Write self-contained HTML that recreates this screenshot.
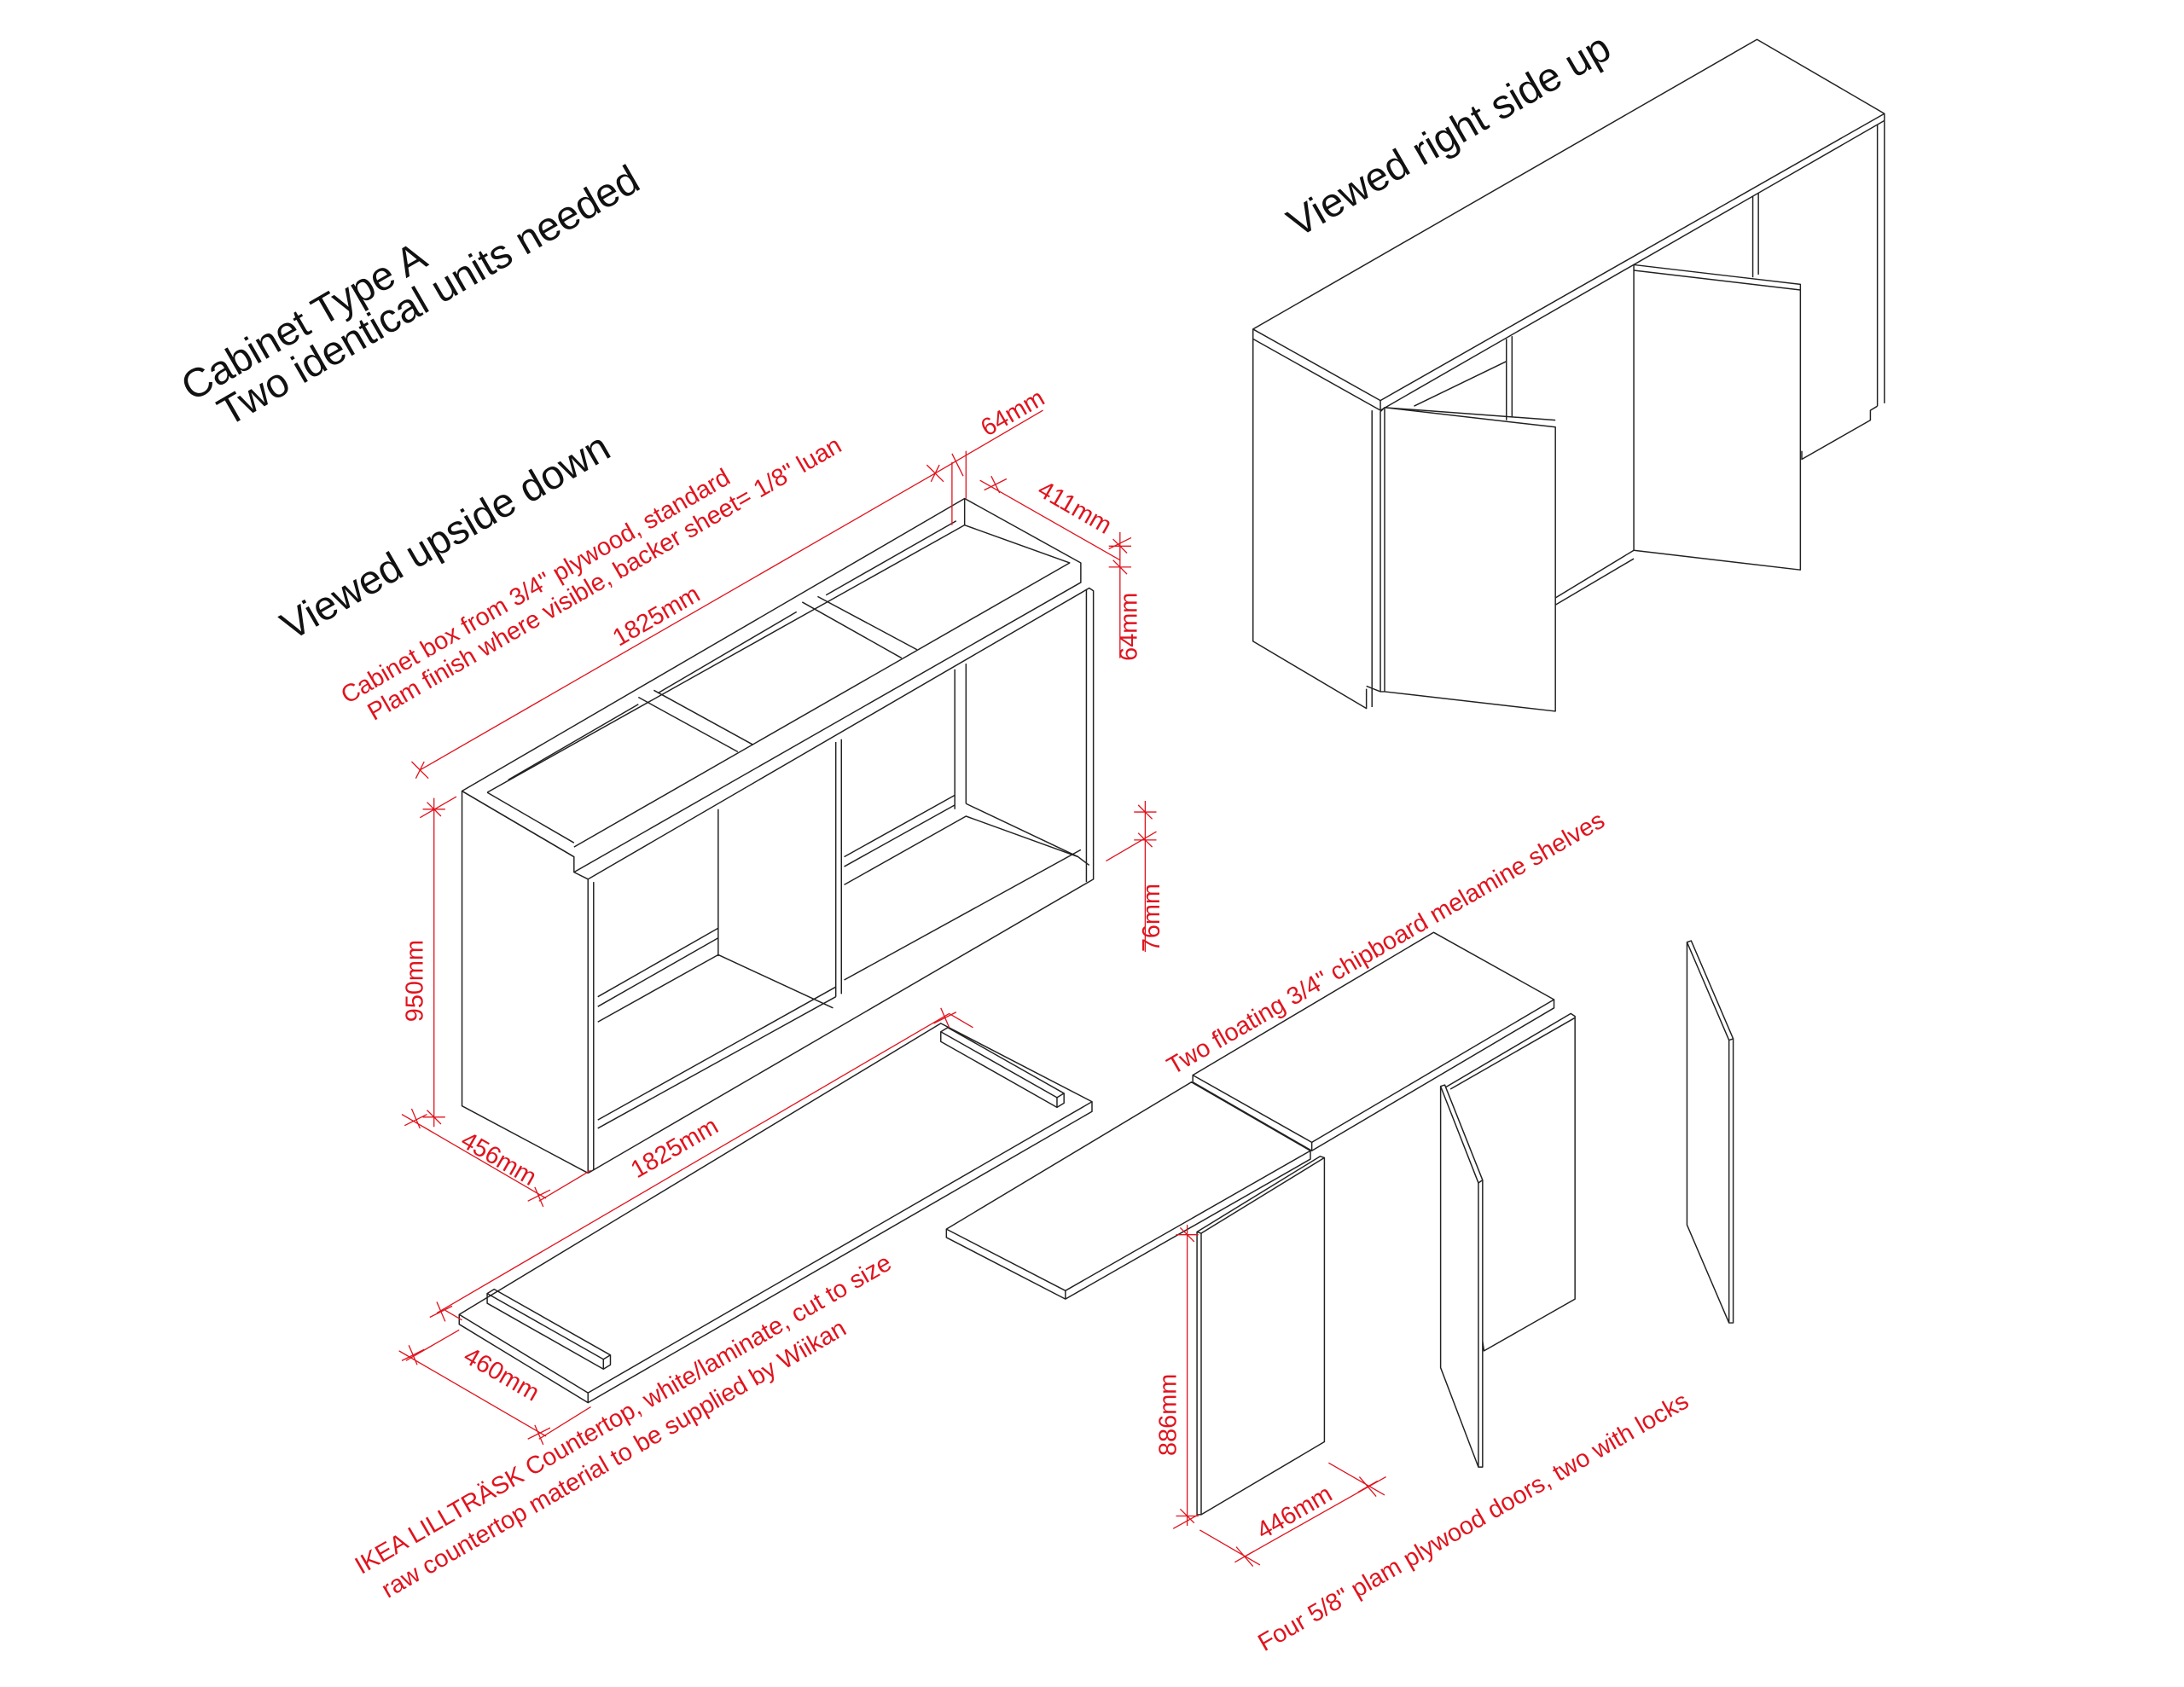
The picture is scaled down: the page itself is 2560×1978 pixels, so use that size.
<!DOCTYPE html>
<html><head><meta charset="utf-8"><style>
html,body{margin:0;padding:0;background:#fff}
svg{display:block}
text{font-family:"Liberation Sans",Arial,sans-serif}
.k{fill:none;stroke:#222;stroke-width:0.9;stroke-linejoin:round}
.r{fill:none;stroke:#e0141e;stroke-width:0.8}
.rt{fill:#e0141e;font-size:17.6px}
.bt{fill:#111;font-size:29px}
</style></head><body>
<svg width="2560" height="1978" viewBox="0 0 1560 1205" xmlns="http://www.w3.org/2000/svg">
<rect width="1560" height="1205" fill="#fff"/>

<text class="bt" transform="rotate(-30 137 287)" x="137" y="287">Cabinet Type A</text>
<text class="bt" transform="rotate(-30 163 305)" x="163" y="305">Two identical units needed</text>
<text class="bt" transform="rotate(-30 208 458)" x="208" y="458">Viewed upside down</text>
<text class="bt" transform="rotate(-30 927 170)" x="927" y="170">Viewed right side up</text>

<g class="k">
  <polygon points="330,565 689,356 772,402 772,416 410,623 410,612" fill="#fff"/>
  <polyline points="330,565 330,790 420,838"/>
  <polyline points="348,566 689,375 764,402 410,605"/>
  <line x1="330" y1="565" x2="410" y2="612"/>
  <line x1="348" y1="566" x2="410" y2="602"/>
  <line x1="689" y1="356" x2="689" y2="375"/>
  <polyline points="456,498 527,537"/><polyline points="467,493 538,532"/>
  <polyline points="573,430 644,470"/><polyline points="584,426 655,464"/>
  <polyline points="363,557 456,503"/><polyline points="470,495 569,437"/><polyline points="590,425 683,372"/>
  <polyline points="410,623 420,628 420,838"/>
  <polyline points="424,630 424,836"/>
  <polyline points="420,628 778,420 781,422 781,628 420,838"/>
  <line x1="776" y1="421" x2="776" y2="630"/>
  <line x1="513" y1="578" x2="513" y2="683"/>
  <polyline points="427,712 513,663"/><polyline points="427,719 513,670"/>
  <polyline points="427,730 513,682 595,720"/>
  <polyline points="427,800 597,705"/><polyline points="427,806 597,712"/>
  <line x1="597" y1="530" x2="597" y2="712"/><line x1="601" y1="528" x2="601" y2="710"/>
  <line x1="682" y1="478" x2="682" y2="578"/><line x1="690" y1="474" x2="690" y2="574"/>
  <polyline points="603,612 682,568"/><polyline points="603,619 682,575"/>
  <polyline points="603,632 690,583 770,612"/>
  <polyline points="690,574 770,612 778,618"/>
  <polyline points="603,700 772,607"/>
</g>

<g class="r">
  <line x1="300" y1="550" x2="668" y2="338"/>
  <line x1="294" y1="544" x2="306" y2="556"/><line x1="297" y1="556" x2="303" y2="544"/>
  <line x1="662" y1="332" x2="674" y2="344"/><line x1="665" y1="344" x2="671" y2="332"/>
  <line x1="668" y1="338" x2="745" y2="293"/>
  <line x1="680" y1="324" x2="688" y2="340"/>
  <line x1="680" y1="330" x2="680" y2="375"/><line x1="690" y1="322" x2="690" y2="356"/>
  <line x1="700" y1="343" x2="800" y2="400"/>
  <line x1="708" y1="340" x2="714" y2="352"/><line x1="703" y1="350" x2="719" y2="342"/>
  <line x1="792" y1="392" x2="808" y2="384"/>
  <line x1="800" y1="380" x2="800" y2="470"/>
  <line x1="792" y1="390" x2="808" y2="390"/><line x1="795" y1="385" x2="805" y2="395"/>
  <line x1="792" y1="405" x2="808" y2="405"/><line x1="795" y1="400" x2="805" y2="410"/>
  <line x1="818" y1="572" x2="818" y2="680"/>
  <line x1="810" y1="580" x2="826" y2="580"/><line x1="813" y1="575" x2="823" y2="585"/>
  <line x1="810" y1="600" x2="826" y2="600"/><line x1="813" y1="595" x2="823" y2="605"/>
  <line x1="790" y1="615" x2="826" y2="594"/>
  <line x1="310" y1="570" x2="310" y2="805"/>
  <line x1="302" y1="578" x2="318" y2="578"/><line x1="305" y1="573" x2="315" y2="583"/>
  <line x1="302" y1="798" x2="318" y2="798"/><line x1="305" y1="793" x2="315" y2="803"/>
  <line x1="300" y1="584" x2="326" y2="569"/>
  <line x1="287" y1="796" x2="390" y2="856"/>
  <line x1="294" y1="792" x2="300" y2="806"/><line x1="289" y1="804" x2="305" y2="796"/>
  <line x1="382" y1="848" x2="388" y2="862"/><line x1="377" y1="858" x2="393" y2="850"/>
  <line x1="385" y1="858" x2="422" y2="836"/>
</g>
<text class="rt" transform="rotate(-30 248 503)" x="248" y="503">Cabinet box from 3/4" plywood, standard</text>
<text class="rt" transform="rotate(-30 267 515)" x="267" y="515">Plam finish where visible, backer sheet= 1/8" luan</text>
<text class="rt" transform="rotate(-30 442 462)" x="442" y="462">1825mm</text>
<text class="rt" transform="rotate(-30 705 312)" x="705" y="312">64mm</text>
<text class="rt" transform="rotate(30 740 353)" x="740" y="353">411mm</text>
<text class="rt" transform="rotate(-90 812 472)" x="812" y="472">64mm</text>
<text class="rt" transform="rotate(-90 828 680)" x="828" y="680">76mm</text>
<text class="rt" transform="rotate(-90 302 730)" x="302" y="730">950mm</text>
<text class="rt" transform="rotate(30 328 818)" x="328" y="818">456mm</text>

<g class="k">
  <polygon points="328,939 672,731 780,787 420,995" fill="#fff"/>
  <polyline points="328,939 328,946 420,1002 780,794 780,787"/>
  <line x1="420" y1="995" x2="420" y2="1002"/>
  <polygon points="348,924 353,921 436,968 431,971"/>
  <polyline points="348,924 348,931 431,978 436,975 436,968"/>
  <line x1="431" y1="971" x2="431" y2="978"/>
  <polygon points="672,737 677,734 760,781 755,784"/>
  <polyline points="672,737 672,744 755,791 760,788 760,781"/>
  <line x1="755" y1="784" x2="755" y2="791"/>
</g>
<g class="r">
  <line x1="312" y1="938" x2="678" y2="724"/>
  <line x1="312" y1="930" x2="318" y2="944"/><line x1="307" y1="941" x2="323" y2="933"/>
  <line x1="672" y1="720" x2="678" y2="734"/><line x1="667" y1="731" x2="683" y2="723"/>
  <line x1="678" y1="724" x2="695" y2="734"/>
  <line x1="318" y1="936" x2="330" y2="943"/>
  <line x1="285" y1="965" x2="390" y2="1026"/>
  <line x1="292" y1="961" x2="298" y2="975"/><line x1="287" y1="972" x2="303" y2="964"/>
  <line x1="382" y1="1018" x2="388" y2="1032"/><line x1="377" y1="1028" x2="393" y2="1020"/>
  <line x1="290" y1="972" x2="328" y2="950"/>
  <line x1="385" y1="1028" x2="422" y2="1005"/>
</g>
<text class="rt" transform="rotate(-30 455 842)" x="455" y="842">1825mm</text>
<text class="rt" transform="rotate(30 330 972)" x="330" y="972">460mm</text>
<text class="rt" transform="rotate(-30 258 1125)" x="258" y="1125">IKEA LILLTRÄSK Countertop, white/laminate, cut to size</text>
<text class="rt" transform="rotate(-30 277 1142)" x="277" y="1142">raw countertop material to be supplied by Wiikan</text>

<g class="k">
  <polygon points="676,878 851,773 936,822 761,922" fill="#fff"/>
  <polyline points="676,878 676,884 761,928 936,828 936,822"/>
  <line x1="761" y1="922" x2="761" y2="928"/>
  <polygon points="852,768 1024,666 1110,714 937,816" fill="#fff"/>
  <polyline points="852,768 852,773"/>
  <polyline points="937,816 937,822 1110,720 1110,714"/>
  <line x1="852" y1="773" x2="937" y2="822"/>
</g>
<text class="rt" transform="rotate(-30 838 768)" x="838" y="768">Two floating 3/4" chipboard melamine shelves</text>

<g class="k">
  <polygon points="855,880 943,826 946,827 946,1030 858,1082 855,1082" fill="#fff"/>
  <polyline points="855,880 858,881 946,827"/>
  <line x1="858" y1="881" x2="858" y2="1082"/>
  <polygon points="1032,777 1122,724 1125,726 1125,928 1060,965" fill="#fff"/>
  <line x1="1036" y1="778" x2="1125" y2="727"/>
  <polygon points="1029,776 1032,775 1059,843 1059,1048 1056,1048 1029,977" fill="#fff"/>
  <polyline points="1029,776 1056,845 1059,843"/>
  <line x1="1056" y1="845" x2="1056" y2="1048"/>
  <polygon points="1205,673 1208,672 1238,742 1238,945 1235,945 1205,875" fill="#fff"/>
  <polyline points="1205,673 1235,743 1238,742"/>
  <line x1="1235" y1="743" x2="1235" y2="945"/>
</g>
<g class="r">
  <line x1="848" y1="875" x2="848" y2="1090"/>
  <line x1="840" y1="882" x2="856" y2="882"/><line x1="843" y1="877" x2="853" y2="887"/>
  <line x1="840" y1="1083" x2="856" y2="1083"/><line x1="843" y1="1078" x2="853" y2="1088"/>
  <line x1="838" y1="1092" x2="856" y2="1082"/>
  <line x1="889" y1="1112" x2="990" y2="1055"/>
  <line x1="883" y1="1105" x2="895" y2="1119"/><line x1="882" y1="1116" x2="896" y2="1108"/>
  <line x1="971" y1="1055" x2="983" y2="1069"/><line x1="970" y1="1066" x2="984" y2="1058"/>
  <line x1="857" y1="1093" x2="900" y2="1118"/>
  <line x1="949" y1="1045" x2="989" y2="1068"/>
</g>
<text class="rt" transform="rotate(-90 840 1040)" x="840" y="1040">886mm</text>
<text class="rt" transform="rotate(-30 902 1100)" x="902" y="1100">446mm</text>
<text class="rt" transform="rotate(-30 903 1180)" x="903" y="1180">Four 5/8" plam plywood doors, two with locks</text>

<g class="k">
  <polygon points="895,235 1255,28 1346,81 986,286" fill="#fff"/>
  <polyline points="895,235 895,242 986,293 1346,86 1346,81"/>
  <line x1="986" y1="286" x2="986" y2="293"/>
  <polyline points="895,242 895,458 976,506 976,492"/>
  <line x1="980" y1="293" x2="980" y2="505"/>
  <line x1="976" y1="490" x2="986" y2="494"/>
  <line x1="1346" y1="86" x2="1346" y2="288"/>
  <line x1="1341" y1="89" x2="1341" y2="290"/>
  <polyline points="1341,290 1336,293 1336,300 1287,328 1287,322"/>
  <line x1="1076" y1="242" x2="1076" y2="300"/><line x1="1080" y1="240" x2="1080" y2="298"/>
  <line x1="1252" y1="140" x2="1252" y2="198"/><line x1="1256" y1="138" x2="1256" y2="196"/>
  <line x1="1010" y1="290" x2="1076" y2="258"/>
  <line x1="1111" y1="427" x2="1167" y2="393"/><line x1="1111" y1="432" x2="1167" y2="399"/>
  <polygon points="986,294 989,291 1111,305 1111,508 989,494 986,494" fill="#fff"/>
  <line x1="989" y1="291" x2="989" y2="494"/>
  <line x1="989" y1="291" x2="1111" y2="300"/>
  <polygon points="1167,189 1286,203 1286,407 1167,393" fill="#fff"/>
  <line x1="1167" y1="193" x2="1286" y2="207"/>
</g>
</svg>
</body></html>
